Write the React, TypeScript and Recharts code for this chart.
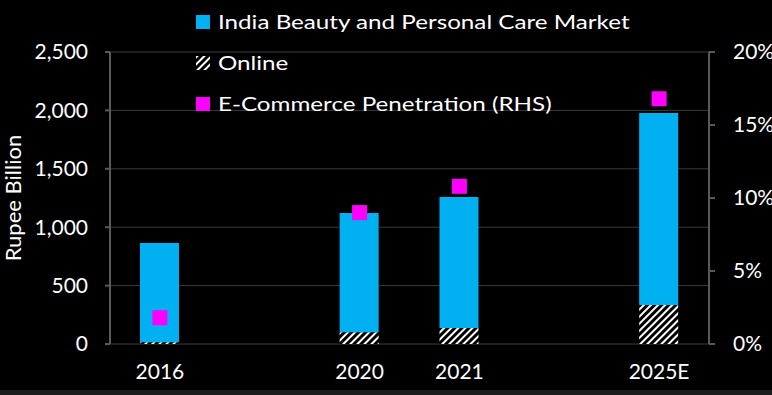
import { ComposedChart, Bar, Line, XAxis, YAxis, CartesianGrid, Legend } from 'recharts';

const years = ['2016', '', '2020', '2021', '', '2025E'];
const marketTotal = [865, null, 1122, 1258, null, 1978];
const onlineSales = [15, null, 100, 138, null, 334];
const penetration = [1.8, null, 9.0, 10.8, null, 16.8];
const leftTicks = [0, 500, 1000, 1500, 2000, 2500];
const rightTicks = [0, 5, 10, 15, 20];
const boundaryTicks = [0, 1, 2, 3, 4, 5, 6];

const BLUE = '#00B0F0';
const PINK = '#FF00FF';
const AXIS = '#595959';
const GRID = '#3a3a3a';
const FONT = 'Lato, "Open Sans", sans-serif';

const data = years.map((y, i) => ({
  year: y,
  online: onlineSales[i],
  offline: marketTotal[i] == null ? null : (marketTotal[i] as number) - (onlineSales[i] as number),
  pen: penetration[i],
}));

const fmt = (v: number) => v.toLocaleString('en-US');

function LegendBox() {
  const row = { display: 'flex', alignItems: 'center', height: 41, color: '#fff', fontFamily: FONT };
  const txt = { fontSize: 19.5, display: 'inline-block', transform: 'scaleX(1.24)', transformOrigin: 'left center', whiteSpace: 'nowrap' as const };
  return (
    <div style={{ position: 'absolute', left: 196, top: 1 }}>
      <div style={row}>
        <div style={{ width: 14, height: 14, background: BLUE, marginRight: 8 }} />
        <span style={txt}>India Beauty and Personal Care Market</span>
      </div>
      <div style={row}>
        <svg width={14} height={14} style={{ marginRight: 8 }}>
          <rect width={14} height={14} fill="url(#hatchLegend)" />
        </svg>
        <span style={txt}>Online</span>
      </div>
      <div style={row}>
        <div style={{ width: 14, height: 14, background: PINK, marginRight: 8 }} />
        <span style={txt}>E-Commerce Penetration (RHS)</span>
      </div>
    </div>
  );
}

const squareDot = (p: any) => {
  if (p.cy == null || p.payload?.pen == null) return <g key={p.index} />;
  return <rect key={p.index} x={p.cx - 7.5} y={p.cy - 7.5} width={15} height={15} fill={PINK} />;
};

export default function App() {
  return (
    <div style={{ position: 'fixed', left: 0, top: 0, width: 772, height: 395, background: '#000', overflow: 'hidden' }}>
      <div style={{ position: 'absolute', left: 0, bottom: 0, width: 772, height: 5, background: '#1c1c1c' }} />
      <ComposedChart
        width={772}
        height={395}
        data={data}
        margin={{ top: 52, right: 0, left: 0, bottom: 0 }}
        barCategoryGap={0}
        barGap={0}
      >
        <defs>
          <pattern id="hatch" patternUnits="userSpaceOnUse" width={5} height={5} patternTransform="rotate(45)">
            <rect width={5} height={5} fill="#000" />
            <rect width={2} height={5} fill="#fff" />
          </pattern>
          <pattern id="hatchLegend" patternUnits="userSpaceOnUse" width={5} height={5} patternTransform="rotate(45)">
            <rect width={5} height={5} fill="#000" />
            <rect width={2} height={5} fill="#fff" />
          </pattern>
        </defs>
        <CartesianGrid vertical={false} stroke={GRID} yAxisId="left" xAxisId="cat" />
        <XAxis
          xAxisId="grid"
          type="number"
          domain={[0, 6]}
          ticks={boundaryTicks}
          height={0}
          axisLine={{ stroke: AXIS, strokeWidth: 2 }}
          tickLine={{ stroke: AXIS, strokeWidth: 2 }}
          tickSize={8}
          tickFormatter={() => ''}
          allowDataOverflow
        />
        <XAxis
          xAxisId="cat"
          dataKey="year"
          height={51}
          axisLine={false}
          tickLine={false}
          tickSize={8}
          tickMargin={12}
          tick={{ fill: '#fff', fontSize: 21, fontFamily: FONT }}
          interval={0}
        />
        <YAxis
          yAxisId="left"
          domain={[0, 2500]}
          ticks={leftTicks}
          width={110}
          axisLine={{ stroke: AXIS, strokeWidth: 2 }}
          tickLine={{ stroke: AXIS, strokeWidth: 2 }}
          tickSize={5}
          tickMargin={17}
          tickFormatter={fmt}
          tick={{ fill: '#fff', fontSize: 21, fontFamily: FONT }}
          label={{ value: 'Rupee Billion', angle: -90, position: 'insideLeft', offset: 13, style: { fill: '#fff', fontSize: 22, fontFamily: FONT, textAnchor: 'middle' } }}
        />
        <YAxis
          yAxisId="right"
          orientation="right"
          domain={[0, 20]}
          ticks={rightTicks}
          width={63}
          axisLine={{ stroke: AXIS, strokeWidth: 2 }}
          tickLine={{ stroke: AXIS, strokeWidth: 2 }}
          tickSize={6}
          tickMargin={18}
          tickFormatter={(v: number) => `${v}%`}
          tick={{ fill: '#fff', fontSize: 21, fontFamily: FONT }}
        />
        <Legend content={() => <LegendBox />} wrapperStyle={{ left: 0, top: 0, width: 772, height: 0 }} verticalAlign="top" />
        <Bar xAxisId="cat" yAxisId="left" dataKey="online" stackId="m" fill="url(#hatch)" barSize={39} isAnimationActive={false} />
        <Bar xAxisId="cat" yAxisId="left" dataKey="offline" stackId="m" fill={BLUE} barSize={39} isAnimationActive={false} />
        <Line
          xAxisId="cat"
          yAxisId="right"
          dataKey="pen"
          stroke="none"
          strokeWidth={0}
          dot={squareDot}
          activeDot={false}
          connectNulls={false}
          isAnimationActive={false}
        />
      </ComposedChart>
    </div>
  );
}
